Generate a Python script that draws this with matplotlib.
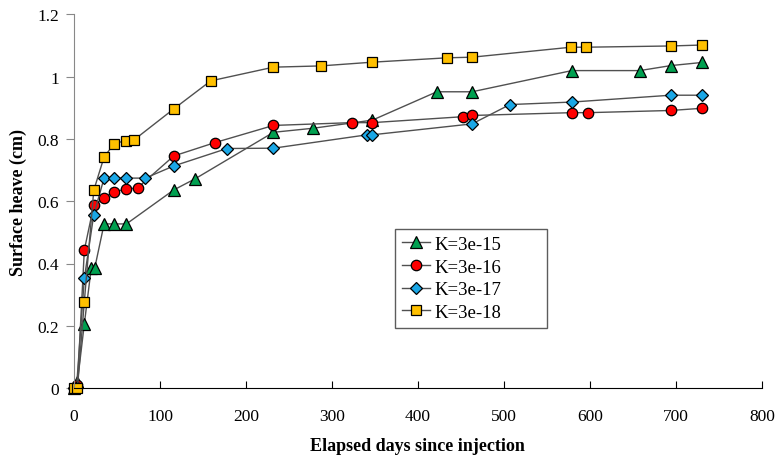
import matplotlib
matplotlib.use('Agg')
import matplotlib.pyplot as plt

plt.rcParams['font.family'] = ['Liberation Serif', 'DejaVu Serif']

# K=3e-15
d15 = [0, 4, 12, 20, 24, 35, 47, 61, 116, 141, 232, 278, 347, 422, 463, 579, 658, 694, 730]
h15 = [0, 0.02, 0.206, 0.384, 0.384, 0.527, 0.527, 0.527, 0.636, 0.672, 0.821, 0.834,
       0.860, 0.951, 0.951, 1.019, 1.019, 1.035, 1.045]
# K=3e-16
d16 = [0, 4, 12, 23, 35, 47, 60, 74, 116, 164, 232, 323, 347, 452, 463, 579, 598, 694, 730]
h16 = [0, 0.01, 0.443, 0.587, 0.611, 0.631, 0.638, 0.643, 0.745, 0.788, 0.843, 0.852,
       0.852, 0.871, 0.875, 0.884, 0.884, 0.891, 0.898]
# K=3e-17
d17 = [0, 3, 12, 23, 35, 47, 60, 83, 116, 178, 232, 341, 347, 463, 507, 579, 694, 730]
h17 = [0, 0.005, 0.352, 0.557, 0.674, 0.674, 0.674, 0.674, 0.713, 0.769, 0.770, 0.813,
       0.813, 0.848, 0.910, 0.918, 0.940, 0.940]
# K=3e-18
d18 = [0, 4, 12, 23, 35, 47, 60, 70, 116, 159, 232, 287, 347, 434, 463, 578, 595, 694, 730]
h18 = [0, 0, 0.278, 0.635, 0.742, 0.785, 0.794, 0.797, 0.896, 0.986, 1.030, 1.034,
       1.046, 1.060, 1.062, 1.094, 1.094, 1.098, 1.101]

series = [
    ('K=3e-15', d15, h15, '^', '#00A050', 8),
    ('K=3e-16', d16, h16, 'o', '#FF0000', 7.5),
    ('K=3e-17', d17, h17, 'D', '#1AA7E6', 6),
    ('K=3e-18', d18, h18, 's', '#FFC000', 7.5),
]

fig = plt.figure(figsize=(7.79, 4.6), dpi=100)
ax = fig.add_axes([0.095, 0.154, 0.883, 0.813])

for name, d, h, mk, col, ms in series:
    ax.plot(d, h, color='#505050', linewidth=1.0, marker=mk, markersize=ms,
            markerfacecolor=col, markeredgecolor='black', markeredgewidth=0.9,
            label=name, clip_on=False)

ax.set_xlim(0, 800)
ax.set_ylim(0, 1.2)
ax.set_xticks(range(0, 801, 100))
ax.set_yticks([0, 0.2, 0.4, 0.6, 0.8, 1.0, 1.2])
ax.set_yticklabels(['0', '0.2', '0.4', '0.6', '0.8', '1', '1.2'])

ax.spines['top'].set_visible(False)
ax.spines['right'].set_visible(False)
ax.spines['left'].set_color('#888888')
ax.spines['bottom'].set_color('black')
ax.tick_params(axis='x', direction='in', length=5, pad=14, labelsize=12.5, colors='black')
ax.tick_params(axis='y', direction='out', length=6, pad=5, labelsize=12.5, color='#888888')

ax.set_xlabel('Elapsed days since injection', fontsize=13, fontweight='bold', labelpad=10)
ax.set_ylabel('Surface heave (cm)', fontsize=13, fontweight='bold', labelpad=7)

leg = ax.legend(loc='lower left', bbox_to_anchor=(0.467, 0.162, 0.22, 0.274),
                mode='expand', fontsize=13.5, frameon=True, fancybox=False,
                handlelength=1.5, handletextpad=0.25, borderaxespad=0,
                borderpad=0.35, labelspacing=0.3)
leg.get_frame().set_edgecolor('#333333')
leg.get_frame().set_linewidth(1.0)

fig.savefig('out.png', dpi=100)
